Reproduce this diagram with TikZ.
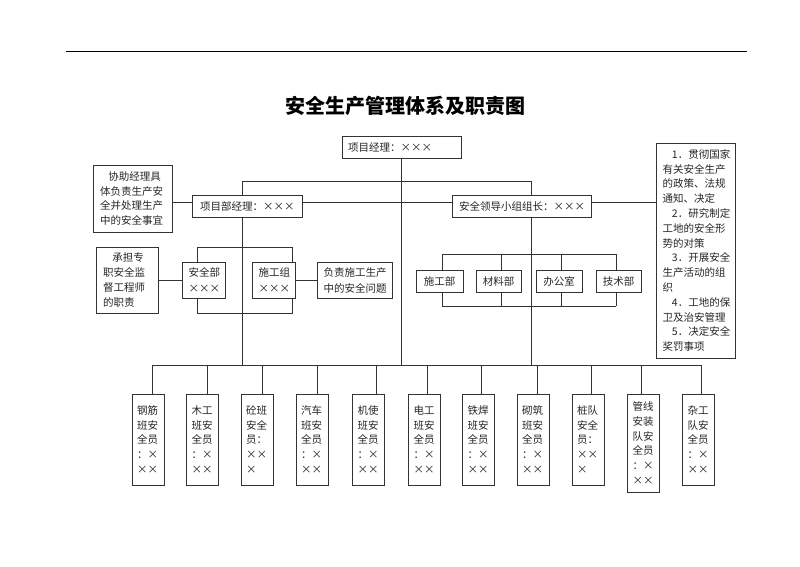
\documentclass[tikz,border=0pt]{standalone}
\usepackage{fontspec}
\setmainfont{Noto Sans CJK SC}
\begin{document}
\begin{tikzpicture}[x=1pt,y=-1pt,
  every node/.style={inner sep=0pt, outer sep=0pt},
  ln/.style={line width=0.8pt, draw=black!80},
  box/.style={draw=black!80, line width=0.8pt, fill=white, font=\fontsize{10.5}{14.8}\selectfont, text=black!85},
  lbox/.style={box, align=left},
  cbox/.style={box, align=center},
  crew/.style={box, align=left, minimum height=91, text width=22, inner xsep=5},
]
\useasboundingbox (0,0) rectangle (800,566);
% top rule
\coordinate (r1) at (66,51.5);
\coordinate (r2) at (747,51.5);
\draw[line width=1pt] (r1) -- (r2);
% title
\node[font=\fontsize{20}{24}\selectfont\bfseries] (title) at (405,106) {安全生产管理体系及职责图};

% ---------- bracket lines (drawn first, boxes cover them) ----------
\coordinate (t1) at (242,181);
\coordinate (t2) at (531,181);
\coordinate (busL) at (152,365);
\coordinate (busR) at (701,365);
\coordinate (bA) at (197,247);
\coordinate (bB) at (292,313);
\coordinate (dA) at (442,254);
\coordinate (dB) at (616,306);

% main nodes
\node[box, text width=107, inner xsep=6, align=left, minimum height=22] (pm) at (401.5,147) {项目经理：×××};
\node[box, text width=94, inner xsep=8, align=left, minimum height=22] (pd) at (247,206) {项目部经理：×××};
\node[box, text width=125, inner xsep=7, align=left, minimum height=22] (sl) at (521.5,206) {安全领导小组组长：×××};

\node[box, text width=65, inner xsep=7, align=left, minimum height=67] (xz) at (132.5,198.5)
  {\hspace*{0.8em}协助经理具\\体负责生产安\\全并处理生产\\中的安全事宜};
\node[box, text width=48, inner xsep=7, align=left, minimum height=66, font=\fontsize{10.5}{15}\selectfont] (cd) at (127,280)
  {\hspace*{0.9em}承担专\\职安全监\\督工程师\\的职责};
\node[box, text width=62, inner xsep=6.5, align=left, minimum height=36, font=\fontsize{10.5}{16}\selectfont] (fz) at (354.5,280)
  {负责施工生产\\中的安全问题};
\node[box, text width=66, inner xsep=6.5, align=left, minimum height=215, font=\fontsize{10.5}{14.8}\selectfont] (rt) at (695.5,250.5)
  {\hspace*{0.9em}1．贯彻国家\\有关安全生产\\的政策、法规\\通知、决定\\\hspace*{0.9em}2．研究制定\\工地的安全形\\势的对策\\\hspace*{0.9em}3．开展安全\\生产活动的组\\织\\\hspace*{0.9em}4．工地的保\\卫及治安管理\\\hspace*{0.9em}5．决定安全\\奖罚事项};

% connectors among upper nodes
\draw[ln] (pm.south) -- (pm.south |- busL);
\draw[ln] (t1) -- (t2);
\draw[ln] (t1) -- (pd.north -| t1);
\draw[ln] (t2) -- (sl.north -| t2);
\draw[ln] ([yshift=4pt]pd.east) -- ([yshift=4pt]sl.west);
\draw[ln] ([yshift=4pt]pd.west -| xz.east) -- ([yshift=4pt]pd.west);
\draw[ln] ([yshift=4pt]sl.east) -- ([yshift=4pt]sl.east -| rt.west);

% left bracket
\draw[ln] (pd.south -| t1) -- (t1 |- busL);
\draw[ln] (bA) rectangle (bB);
% right bracket
\draw[ln] (sl.south -| t2) -- (t2 |- busL);
\draw[ln] (dA) -- (dA -| dB);
\draw[ln] (dA |- dB) -- (dB);
\coordinate (v1) at (442,254);
\coordinate (v2) at (501,254);
\coordinate (v3) at (561,254);
\coordinate (v4) at (616,254);
\foreach \v in {v1,v2,v3,v4} \draw[ln] (\v) -- (\v |- dB);

% boxes on the brackets
\node[box, text width=30, inner xsep=6.5, align=left, minimum height=36, font=\fontsize{10.5}{16}\selectfont] (aq) at (203.5,280) {安全部\\×××};
\node[box, text width=30, inner xsep=6.5, align=left, minimum height=36, font=\fontsize{10.5}{16}\selectfont] (sg) at (273.5,280) {施工组\\×××};
\draw[ln] (cd.east |- aq.west) -- (aq.west);
\draw[ln] (sg.east) -- (fz.west);

\node[cbox, minimum width=47, minimum height=22] (d1) at (439.5,281) {施工部};
\node[cbox, minimum width=45, minimum height=22] (d2) at (498.5,281) {材料部};
\node[cbox, minimum width=46, minimum height=22] (d3) at (559,281) {办公室};
\node[cbox, minimum width=45, minimum height=22] (d4) at (618.5,281) {技术部};

% bus
\draw[ln] (busL) -- (busR);

% crew boxes
\node[crew] (c1) at (148,439.5) {钢筋\\班安\\全员\\：×\\××};
\node[crew] (c2) at (202.5,439.5) {木工\\班安\\全员\\：×\\××};
\node[crew] (c3) at (257,439.5) {砼班\\安全\\员：\\××\\×};
\node[crew] (c4) at (312,439.5) {汽车\\班安\\全员\\：×\\××};
\node[crew] (c5) at (368.5,439.5) {机使\\班安\\全员\\：×\\××};
\node[crew] (c6) at (424.5,439.5) {电工\\班安\\全员\\：×\\××};
\node[crew] (c7) at (478.5,439.5) {铁焊\\班安\\全员\\：×\\××};
\node[crew] (c8) at (533,439.5) {砌筑\\班安\\全员\\：×\\××};
\node[crew] (c9) at (588,439.5) {桩队\\安全\\员：\\××\\×};
\node[crew, minimum height=98] (c10) at (643.5,443) {管线\\安装\\队安\\全员\\：×\\××};
\node[crew] (c11) at (698.5,439.5) {杂工\\队安\\全员\\：×\\××};

\foreach \n/\x in {c1/152,c2/207,c3/262,c4/317,c5/376,c6/427,c7/481,c8/537,c9/591,c10/641,c11/701}{
  \coordinate (k\n) at (\x,365);
  \draw[ln] (k\n) -- (k\n |- \n.north);
}
\end{tikzpicture}
\end{document}
